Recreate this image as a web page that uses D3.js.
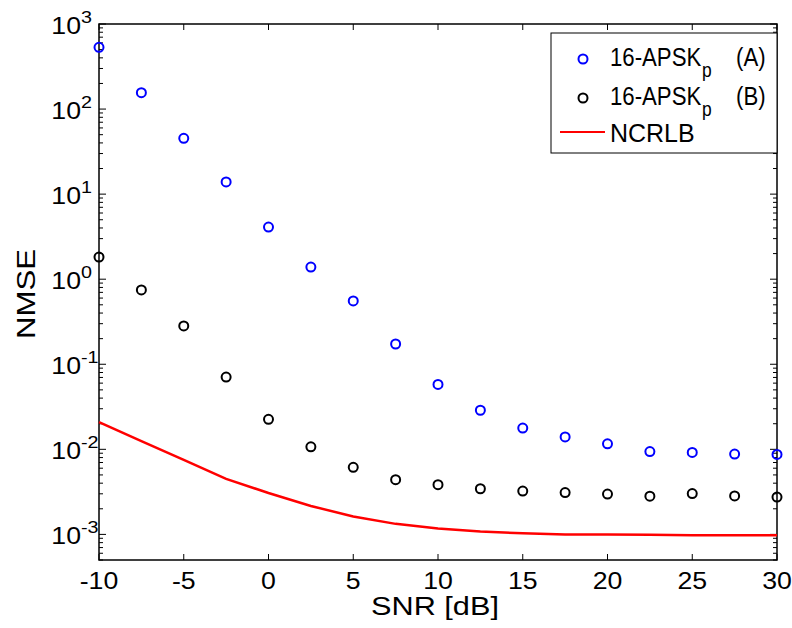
<!DOCTYPE html>
<html><head><meta charset="utf-8">
<script src="https://cdn.jsdelivr.net/npm/d3@7"></script>
<style>body{margin:0;background:#fff}svg{display:block}text{font-family:"Liberation Sans",Arial,sans-serif}</style>
</head><body>
<svg id="c" width="792" height="628"></svg>
<script>
const snr = [-10,-7.5,-5,-2.5,0,2.5,5,7.5,10,12.5,15,17.5,20,22.5,25,27.5,30];
const nmseA = [532,156,45.3,13.9,4.1,1.39,0.555,0.173,0.058,0.0288,0.0178,0.014,0.0116,0.0094,0.0092,0.0088,0.0087];
const nmseB = [1.82,0.747,0.282,0.0708,0.0225,0.0107,0.00615,0.0044,0.00384,0.00344,0.00323,0.0031,0.00298,0.00281,0.00302,0.00283,0.00275];
const ncrlb = [0.0209,0.0125,0.0075,0.00449,0.00307,0.00216,0.00162,0.00133,0.00117,0.00108,0.00103,0.00100,0.00100,0.00099,0.00098,0.00098,0.00098];
const xTicks = [-10,-5,0,5,10,15,20,25,30];
const yExps = [-3,-2,-1,0,1,2,3];
const seriesNames = ["16-APSK", "16-APSK", "NCRLB"];
const seriesSubs = ["p", "p"];
const seriesSuffix = ["(A)", "(B)"];

const svg = d3.select("#c");
const L=99, R=777, T=24, B=560;
const SX = 1.16;
const x = d3.scaleLinear().domain([-10,30]).range([L,R]);
const y = d3.scaleLog().domain([5e-4,1000]).range([B,T]);

function stext(px, py, size, anchor, str, sx){
  return svg.append("text").attr("transform",`translate(${px},${py}) scale(${sx||SX},1)`)
    .attr("text-anchor",anchor).attr("font-size",size).text(str);
}

// minor ticks
const minor = [];
for (let e=-4;e<3;e++) for (let m=2;m<=9;m++){const v=m*Math.pow(10,e); if(v>=5e-4&&v<=1000) minor.push(v);}
const g = svg.append("g").attr("stroke","#000").attr("stroke-width",1);
minor.forEach(v=>{
  g.append("line").attr("x1",L).attr("x2",L+4).attr("y1",y(v)).attr("y2",y(v));
  g.append("line").attr("x1",R).attr("x2",R-4).attr("y1",y(v)).attr("y2",y(v));
});
yExps.forEach(e=>{
  const v=Math.pow(10,e);
  g.append("line").attr("x1",L).attr("x2",L+7).attr("y1",y(v)).attr("y2",y(v));
  g.append("line").attr("x1",R).attr("x2",R-7).attr("y1",y(v)).attr("y2",y(v));
  const t = svg.append("text").attr("transform",`translate(81,${y(v)+9.5}) scale(${SX},1)`).attr("font-size",23);
  t.append("tspan").attr("text-anchor","end").text("10");
  t.append("tspan").attr("x",0).attr("dy",-11).attr("font-size",17).text(String(e));
});
xTicks.forEach(v=>{
  g.append("line").attr("x1",x(v)).attr("x2",x(v)).attr("y1",B).attr("y2",B-6);
  g.append("line").attr("x1",x(v)).attr("x2",x(v)).attr("y1",T).attr("y2",T+6);
  stext(x(v), 588.5, 23, "middle", String(v));
});

// frame
svg.append("rect").attr("x",L).attr("y",T).attr("width",R-L).attr("height",B-T).attr("fill","none").attr("stroke","#000").attr("stroke-width",1.5);

// line
const line = d3.line().x((d,i)=>x(snr[i])).y(d=>y(d));
svg.append("path").datum(ncrlb).attr("d",line).attr("fill","none").attr("stroke","#ff0000").attr("stroke-width",2.5);

svg.append("g").selectAll("circle").data(nmseB).join("circle")
  .attr("cx",(d,i)=>x(snr[i])).attr("cy",d=>y(d)).attr("r",4.5).attr("fill","none").attr("stroke","#000").attr("stroke-width",2);
svg.append("g").selectAll("circle").data(nmseA).join("circle")
  .attr("cx",(d,i)=>x(snr[i])).attr("cy",d=>y(d)).attr("r",4.5).attr("fill","none").attr("stroke","#0000ff").attr("stroke-width",2);

// axis labels
stext(435, 615, 26, "middle", "SNR [dB]", 1.18);
svg.append("text").attr("transform",`translate(35,294) rotate(-90) scale(1.2,1)`).attr("text-anchor","middle").attr("font-size",26).text("NMSE");

// legend
const LS = 0.87;
const lg = svg.append("g");
lg.append("rect").attr("x",551).attr("y",33).attr("width",226).attr("height",120).attr("fill","#fff").attr("stroke","#000").attr("stroke-width",1);
const rowsY=[59,98], cols=["#0000ff","#000"];
rowsY.forEach((ry,i)=>{
  lg.append("circle").attr("cx",583).attr("cy",ry).attr("r",4.5).attr("fill","none").attr("stroke",cols[i]).attr("stroke-width",2);
  const t = lg.append("text").attr("transform",`translate(610,${ry+7}) scale(${LS},1)`).attr("font-size",25.5);
  t.append("tspan").text(seriesNames[i]);
  t.append("tspan").attr("dx",1).attr("dy",11).attr("font-size",20).text(seriesSubs[i]);
  t.append("tspan").attr("x",(736-610)/LS).attr("dy",-11).text(seriesSuffix[i]);
});
lg.append("line").attr("x1",560).attr("x2",605).attr("y1",132).attr("y2",132).attr("stroke","#ff0000").attr("stroke-width",2);
lg.append("text").attr("transform",`translate(610,141.5) scale(0.98,1)`).attr("font-size",25.5).text(seriesNames[2]);
</script>
</body></html>
